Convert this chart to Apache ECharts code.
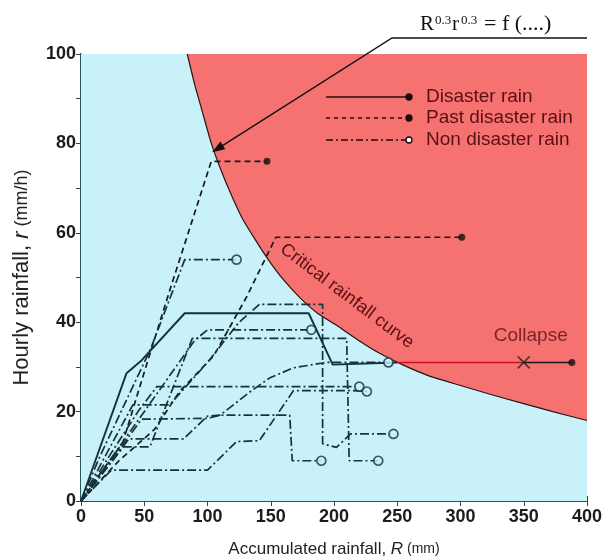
<!DOCTYPE html>
<html><head><meta charset="utf-8">
<script src="https://cdn.jsdelivr.net/npm/echarts/dist/echarts.min.js"></script>
<style>html,body{margin:0;padding:0;background:#fff}#c{width:608px;height:559px}</style>
</head><body><div id="c"></div>
<script>
// ---- data ----
const xTickValues = [0, 50, 100, 150, 200, 250, 300, 350, 400];
const yTickValues = [0, 20, 40, 60, 80, 100];

// critical rainfall curve (R, r)
const critR = [84, 90, 96, 103, 110, 118, 127, 137, 148, 160, 173, 187, 202, 218, 235, 254, 275, 298, 322, 347, 373, 400];
const critr = [100, 93, 87, 80, 74.5, 69, 63.5, 58.8, 54, 49.5, 45.5, 42, 39.3, 36.2, 33.2, 30.5, 28, 26, 24, 22, 20, 18];
const topR = [0];
const topr = [100];

// disaster rain (solid)
const disR = [0, 36, 48, 82, 180, 199, 250];
const disr = [0, 28.6, 31.5, 42, 42, 30.5, 31];
const redR = [250, 350];
const redr = [31, 31];
const tailR = [350, 388];
const tailr = [31, 31];
const collapseR = [350];
const collapser = [31];

// past disaster rain (dashed)
const pastA_R = [0, 20, 33, 48, 70, 103, 147];
const pastA_r = [0, 8, 13, 27, 47, 76, 76];
const pastB_R = [0, 30, 58, 78, 105, 131, 154, 301];
const pastB_r = [0, 9, 16, 24.5, 32.5, 45.7, 59, 59];

// non disaster rain (dash-dot)
const n1R = [0, 15, 55, 82, 123];
const n1r = [0, 10, 34, 54, 54];
const n2R = [0, 30, 60, 90, 100, 182];
const n2r = [0, 12, 24, 36, 38.3, 38.3];
const n3R = [0, 33.5, 54.5, 88, 210, 212, 235];
const n3r = [0, 12.1, 12.1, 36.4, 36.4, 9, 9];
const n4R = [0, 20, 45, 60, 220];
const n4r = [0, 9, 20, 25.6, 25.6];
const n5R = [0, 38, 81, 100, 110, 134, 149, 168, 194, 243];
const n5r = [0, 13.9, 13.9, 19, 19.2, 24.5, 27.5, 29.8, 31, 31];
const n6R = [0, 41, 70, 100, 125, 141, 191, 191, 202, 213, 247];
const n6r = [0, 21.5, 21.5, 31, 40, 44, 44, 12.8, 12, 15, 15];
const n7R = [0, 48, 100, 110, 165, 167, 190];
const n7r = [0, 18.3, 18.5, 19.2, 19.2, 9, 9];
const n8R = [0, 24, 100, 123, 141, 168, 215, 226];
const n8r = [0, 6.9, 6.9, 13.3, 13.5, 24.7, 24.7, 24.5];

const arrowTip = [103.5, 78];

// ---- helpers ----
const pts = (R, r) => R.map((v, i) => [v, r[i]]);
const last = (R, r) => [R[R.length - 1], r[r.length - 1]];
const INK = '#18323a';
const DASH = [6, 4];
const DASHDOT = [9, 3, 2, 3];
const RED_BG = '#f67271';
const CYAN = '#c9f1f9';
const MAROON = '#5a0f12';
const SANS = 'Liberation Sans, Arial, sans-serif';

const pastLines = [[pastA_R, pastA_r], [pastB_R, pastB_r]];
const nonLines = [[n1R, n1r], [n2R, n2r], [n3R, n3r], [n4R, n4r], [n5R, n5r], [n6R, n6r], [n7R, n7r], [n8R, n8r]];

const series = [];
series.push({ type: 'line', data: pts(topR, topr).concat(pts(critR, critr)), symbol: 'none', lineStyle: { width: 0 }, areaStyle: { color: CYAN, opacity: 1 }, z: 1, silent: true });
series.push({ type: 'line', data: pts(critR, critr), smooth: 0.15, symbol: 'none', lineStyle: { color: '#2a1414', width: 1.2 }, z: 2, silent: true });
pastLines.forEach(([R, r]) => series.push({ type: 'line', data: pts(R, r), symbol: 'none', lineStyle: { color: '#141a1d', width: 1.7, type: DASH }, z: 4 }));
nonLines.forEach(([R, r]) => series.push({ type: 'line', data: pts(R, r), symbol: 'none', lineStyle: { color: INK, width: 1.7, type: DASHDOT }, z: 4 }));
series.push({ type: 'line', data: pts(disR, disr), symbol: 'none', lineStyle: { color: '#12313a', width: 1.9 }, z: 5 });
series.push({ type: 'line', data: pts(redR, redr), symbol: 'none', lineStyle: { color: '#c8141a', width: 1.6 }, z: 5 });
series.push({ type: 'line', data: pts(tailR, tailr), symbol: 'none', lineStyle: { color: '#1a1a1a', width: 1.4 }, z: 5 });
// end markers
series.push({ type: 'scatter', data: [last(tailR, tailr)].concat(pastLines.map(([R, r]) => last(R, r))), symbol: 'circle', symbolSize: 7, itemStyle: { color: '#111' }, z: 6 });
series.push({ type: 'scatter', data: nonLines.map(([R, r]) => last(R, r)), symbol: 'circle', symbolSize: 9, itemStyle: { color: CYAN, borderColor: INK, borderWidth: 1.7 }, z: 6 });
series.push({ type: 'scatter', data: pts(collapseR, collapser), symbol: 'path://M0,0L10,10M10,0L0,10', symbolSize: 12,
  itemStyle: { color: 'none', borderColor: '#222', borderWidth: 1.6 }, z: 7,
  label: { show: true, formatter: 'Collapse', position: 'top', distance: 9, offset: [7, 0], color: MAROON, fontSize: 19, fontFamily: SANS } });

const axisLine = { show: true, lineStyle: { color: '#1b4d55', width: 1.5 } };
const chart = echarts.init(document.getElementById('c'), null, { renderer: 'canvas' });
chart.setOption({
  animation: false,
  backgroundColor: '#fff',
  grid: { left: 81, right: 21, top: 54, bottom: 58, show: true, backgroundColor: RED_BG, borderWidth: 0, containLabel: false, outerBoundsMode: 'none' },
  xAxis: [
    { type: 'value', min: 0, max: 400, interval: 50, position: 'bottom',
      axisLine, axisTick: { inside: true, length: 5, lineStyle: { color: '#1b4d55' } },
      axisLabel: { fontSize: 18, fontWeight: 'bold', color: '#1c1c1c', margin: 7, fontFamily: SANS,
        formatter: v => xTickValues.includes(v) ? String(v) : '' },
      splitLine: { show: false },
      name: '{a|Accumulated rainfall, }{i|R}{b| (mm)}', nameLocation: 'middle', nameGap: 40,
      nameTextStyle: { color: '#222', rich: {
        a: { fontSize: 17, color: '#222', fontFamily: SANS },
        i: { fontSize: 17, color: '#222', fontStyle: 'italic', fontFamily: SANS },
        b: { fontSize: 14, color: '#222', fontFamily: SANS } } } },
    { type: 'value', min: 0, max: 400, interval: 50, position: 'top',
      axisLine, axisTick: { inside: true, length: 5, lineStyle: { color: '#1b4d55' } },
      axisLabel: { show: false }, splitLine: { show: false } }
  ],
  yAxis: [
    { type: 'value', min: 0, max: 100, interval: 20, position: 'left',
      axisLine, axisTick: { inside: true, length: 5, lineStyle: { color: '#1b4d55' } },
      minorTick: { show: true, splitNumber: 2, length: 3, lineStyle: { color: '#1b4d55' } },
      axisLabel: { fontSize: 18, fontWeight: 'bold', color: '#1c1c1c', margin: 5, fontFamily: SANS,
        formatter: v => yTickValues.includes(v) ? String(v) : '' },
      splitLine: { show: false },
      name: '{a|Hourly rainfall, }{i|r}{b| (mm/h)}', nameLocation: 'middle', nameGap: 48, nameRotate: 90,
      nameTextStyle: { rich: {
        a: { fontSize: 22, color: '#222', fontFamily: SANS },
        i: { fontSize: 22, color: '#222', fontStyle: 'italic', fontFamily: SANS },
        b: { fontSize: 18, color: '#222', fontFamily: SANS } } } },
    { type: 'value', min: 0, max: 100, interval: 10, position: 'right',
      axisLine, axisTick: { inside: true, length: 5, lineStyle: { color: '#1b4d55' } },
      axisLabel: { show: false }, splitLine: { show: false } }
  ],
  series
});

// ---- annotations (legend, formula, arrow, curve label) ----
const tip = chart.convertToPixel({ xAxisIndex: 0, yAxisIndex: 0 }, arrowTip);
const knee = [392, 38];
const ang = Math.atan2(tip[1] - knee[1], tip[0] - knee[0]);
const hl = 13, hw = 4.5;
const bx = tip[0] - hl * Math.cos(ang), by = tip[1] - hl * Math.sin(ang);
const head = [tip, [bx + hw * Math.sin(ang), by - hw * Math.cos(ang)], [bx - hw * Math.sin(ang), by + hw * Math.cos(ang)]];

const legendItems = [
  { label: 'Disaster rain', dash: null, open: false },
  { label: 'Past disaster rain', dash: [4, 4], open: false },
  { label: 'Non disaster rain', dash: [7, 3, 2, 3], open: true }
];
const lgY = [97, 118, 140];
const graphics = [];
legendItems.forEach((it, i) => {
  graphics.push({ type: 'line', shape: { x1: 326, y1: lgY[i], x2: 408, y2: lgY[i] }, style: { stroke: '#2a0d0d', lineWidth: 1.3, lineDash: it.dash || null }, z: 50 });
  graphics.push({ type: 'circle', shape: { cx: 409, cy: lgY[i], r: 3 }, style: { fill: it.open ? '#fff' : '#1a0a0a', stroke: '#1a0a0a', lineWidth: 1.3 }, z: 51 });
  graphics.push({ type: 'text', x: 426, y: lgY[i], style: { text: it.label, fill: MAROON, fontSize: 19, fontFamily: SANS, verticalAlign: 'middle', align: 'left' }, z: 51 });
});
graphics.push({ type: 'polyline', shape: { points: [[587, 38], knee, [bx, by]] }, style: { stroke: '#111', lineWidth: 1.4, fill: null }, z: 60 });
graphics.push({ type: 'polygon', shape: { points: head }, style: { fill: '#111' }, z: 60 });
const serif = 'Liberation Serif, Times New Roman, serif';
graphics.push({ type: 'text', x: 420, y: 35, style: { text: 'R', fill: '#111', fontSize: 21, fontFamily: serif, verticalAlign: 'bottom' }, z: 60 });
graphics.push({ type: 'text', x: 435, y: 27, style: { text: '0.3', fill: '#111', fontSize: 13, fontFamily: serif, verticalAlign: 'bottom' }, z: 60 });
graphics.push({ type: 'text', x: 452, y: 35, style: { text: 'r', fill: '#111', fontSize: 21, fontFamily: serif, verticalAlign: 'bottom' }, z: 60 });
graphics.push({ type: 'text', x: 461, y: 27, style: { text: '0.3', fill: '#111', fontSize: 13, fontFamily: serif, verticalAlign: 'bottom' }, z: 60 });
graphics.push({ type: 'text', x: 484, y: 35, style: { text: '= f (....)', fill: '#111', fontSize: 22, fontFamily: serif, verticalAlign: 'bottom' }, z: 60 });
graphics.push({ type: 'text', x: 347, y: 296, rotation: -37 * Math.PI / 180, style: { text: 'Critical rainfall curve', fill: MAROON, fontSize: 18, fontFamily: SANS, align: 'center', verticalAlign: 'middle' }, z: 55 });
chart.setOption({ graphic: graphics });
</script>
</body></html>
